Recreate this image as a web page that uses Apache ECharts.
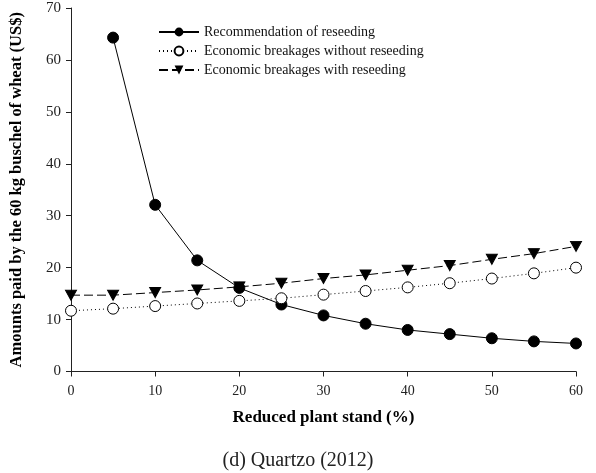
<!DOCTYPE html>
<html><head><meta charset="utf-8">
<script src="https://cdn.jsdelivr.net/npm/echarts@6/dist/echarts.min.js"></script>
<style>html,body{margin:0;padding:0;background:#fff}#c{width:596px;height:473px}</style>
</head><body><div id="c"></div>
<script>
const xValues = [0,5,10,15,20,25,30,35,40,45,50,55,60];
const recommendation = [null,64.3,32.1,21.4,16.1,12.9,10.8,9.2,8.0,7.2,6.4,5.8,5.4];
const withoutReseeding = [11.7,12.1,12.6,13.1,13.6,14.1,14.8,15.5,16.2,17.0,17.9,18.9,20.0];
const withReseeding = [14.7,14.7,15.2,15.7,16.3,17.0,17.9,18.6,19.5,20.4,21.6,22.7,24.1];
const seriesNames = ['Recommendation of reseeding','Economic breakages without reseeding','Economic breakages with reseeding'];

const pairs = arr => xValues.map((x,i)=>[x,arr[i]]).filter(p=>p[1]!==null);
const serif = 'Liberation Serif';
const chart = echarts.init(document.getElementById('c'));
chart.setOption({
  animation:false,
  textStyle:{fontFamily:serif,color:'#000'},
  grid:{left:71,right:20,top:8,bottom:101.5},
  title:{text:'(d) Quartzo (2012)',left:'center',top:446,
    textStyle:{fontFamily:serif,fontSize:20,fontWeight:'normal',color:'#222'}},
  legend:{left:153,top:20,orient:'vertical',itemWidth:40,itemHeight:11,itemGap:5,
    textStyle:{fontFamily:serif,fontSize:14,color:'#111'},
    data:seriesNames},
  xAxis:{type:'value',min:0,max:60,interval:10,
    name:'Reduced plant stand (%)',nameLocation:'middle',nameGap:38,
    nameTextStyle:{fontFamily:serif,fontSize:17,fontWeight:'bold',color:'#000'},
    axisLine:{lineStyle:{color:'#222',width:1}},
    axisTick:{length:5,lineStyle:{color:'#222'}},
    axisLabel:{fontFamily:serif,fontSize:14,color:'#222',margin:13},
    splitLine:{show:false}},
  yAxis:{type:'value',min:0,max:70,interval:10,
    name:'Amounts paid by the 60 kg buschel of wheat (US$)',nameLocation:'middle',nameGap:46,
    nameTextStyle:{fontFamily:serif,fontSize:16.5,fontWeight:'bold',color:'#000'},
    axisLine:{show:true,lineStyle:{color:'#222',width:1}},
    axisTick:{show:true,length:5,lineStyle:{color:'#222'}},
    axisLabel:{fontFamily:serif,fontSize:15,color:'#222',margin:10},
    splitLine:{show:false}},
  series:[
    {name:seriesNames[0],type:'line',data:pairs(recommendation),
      symbol:'circle',symbolSize:11,
      itemStyle:{color:'#000',borderColor:'#000'},
      lineStyle:{color:'#000',width:1,type:'solid'}},
    {name:seriesNames[1],type:'line',data:pairs(withoutReseeding),
      symbol:'circle',symbolSize:11,
      itemStyle:{color:'#fff',borderColor:'#000',borderWidth:1},
      lineStyle:{color:'#000',width:1,type:[1,3]}},
    {name:seriesNames[2],type:'line',data:pairs(withReseeding),
      symbol:'triangle',symbolSize:[11,10],symbolRotate:180,
      itemStyle:{color:'#000',borderColor:'#000'},
      lineStyle:{color:'#000',width:1,type:[9,4]}}
  ]
});
</script></body></html>
